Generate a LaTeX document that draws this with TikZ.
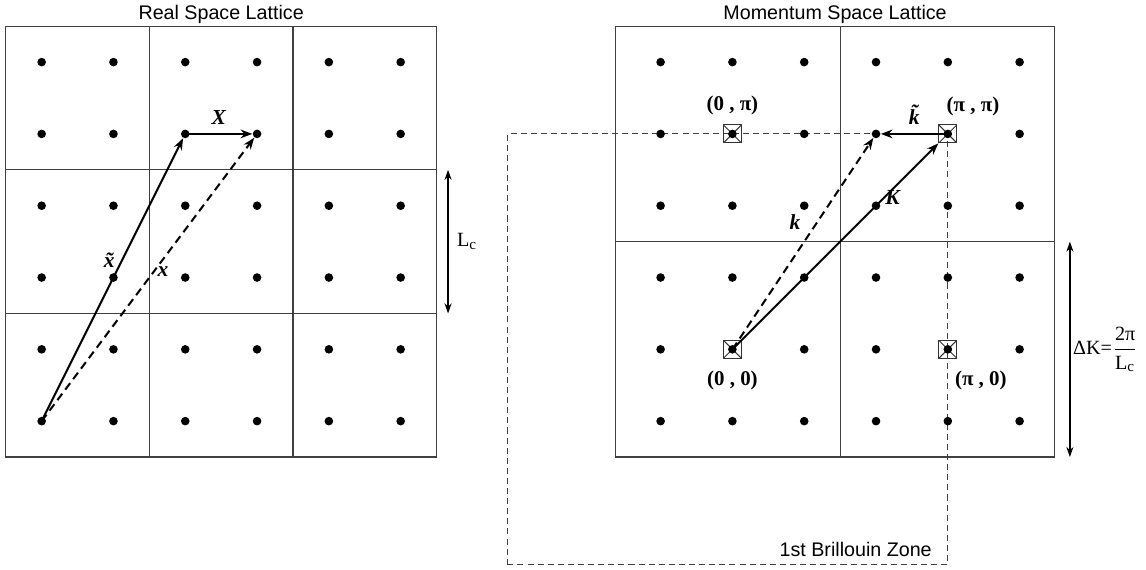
\documentclass[tikz,border=0pt]{standalone}
\usepackage{amsmath}
\usepackage{fontspec}
\setmainfont{Liberation Serif}
\newfontfamily\arialfont{Liberation Sans}
\usepackage{tikz}
\usetikzlibrary{arrows.meta,positioning,calc}

\begin{document}
\begin{tikzpicture}[>={Stealth[length=4.6pt,width=3.4pt]},font=\fontsize{8}{9.6}\selectfont,
 cell/.style={draw=black!75,line width=.45pt},
 site/.style={circle,fill,inner sep=0pt,minimum size=.12cm},
 hsym/.style={draw=black!80,line width=.4pt,minimum size=.25cm,inner sep=0pt,
  path picture={\draw[black!80,line width=.4pt] (path picture bounding box.north west)--(path picture bounding box.south east)
   (path picture bounding box.north east)--(path picture bounding box.south west);}},
 vec/.style={line width=.8pt,->},
 dvec/.style={vec,dash pattern=on 3.2pt off 2pt},
 bz/.style={draw=black!75,line width=.45pt,dash pattern=on 2.4pt off 1.6pt},
 span/.style={line width=.5pt,{Stealth[length=4pt,width=2.8pt]}-{Stealth[length=4pt,width=2.8pt]}},
 lbl/.style={font=\fontsize{8.5}{10}\selectfont\bfseries\itshape},
 ptl/.style={font=\fontsize{8.3}{10}\selectfont\bfseries},
 ttl/.style={font=\fontsize{7.8}{9.4}\selectfont\arialfont}]
\useasboundingbox (0,0) rectangle (15.96,7.925);
\node[ttl,anchor=base] (tr) at (3.08,7.65) {Real Space Lattice};
\node[ttl,anchor=base] (tm) at (11.63,7.65) {Momentum Space Lattice};
\draw[cell] (.08,1.56) rectangle (6.08,7.56) (2.08,1.56)--(2.08,7.56) (4.08,1.56)--(4.08,7.56)
 (.08,3.56)--(6.08,3.56) (.08,5.56)--(6.08,5.56);
\foreach \i in {0,...,5} \foreach \j in {0,...,5} \node[site] (r\i\j) at (.58+\i,7.06-\j) {};
\draw[vec] (r05.center)--(r21);
\draw[dvec] (r05.center)--(r31);
\draw[vec] (r21.center)--(r31) node[midway,above,lbl]{X};
\node[lbl] (xt) at (1.52,4.3) {\~{x}};
\node[lbl] (xl) at (2.27,4.14) {x};
\coordinate (lc1) at (6.24,5.56); \coordinate (lc2) at (6.24,3.56);
\draw[span] (lc1)--(lc2) node[midway,right]{L\textsubscript{c}};
\draw[bz] (7.07,.06) rectangle (13.2,6.06);
\node[ttl,anchor=base east] (bzl) at (13.1,.17) {1st Brillouin Zone};
\draw[cell] (8.57,1.56) rectangle (14.68,7.56) (11.7,1.56)--(11.7,7.56) (8.57,4.56)--(14.68,4.56);
\node[hsym] (g) at (10.2,3.06) {};
\node[hsym] (y) at (10.2,6.06) {};
\node[hsym] (m) at (13.2,6.06) {};
\node[hsym] (xp) at (13.2,3.06) {};
\foreach \i in {0,...,5} \foreach \j in {0,...,5} \node[site] (m\i\j) at (9.2+\i,7.06-\j) {};
\draw[vec] (g.center)--(m);
\draw[dvec] (g.center)--(m31);
\draw[vec] (m.center)--(m31) node[midway,above,lbl]{\~{k}};
\node[lbl] (kb) at (12.43,5.18) {K};
\node[lbl] (ks) at (11.07,4.83) {k};
\node[ptl] (ly) at (10.2,6.45) {(0 , π)};
\node[ptl] (lm) at (13.55,6.44) {(π , π)};
\node[ptl] (lg) at (10.2,2.63) {(0 , 0)};
\node[ptl] (lx) at (13.66,2.63) {(π , 0)};
\coordinate (dk1) at (14.9,4.56); \coordinate (dk2) at (14.9,1.56);
\draw[span] (dk1)--(dk2) node[midway,right,inner sep=1pt]{ΔK=\(\dfrac{\text{2π}}{\text{L\textsubscript{c}}}\)};
\end{tikzpicture}
\end{document}
